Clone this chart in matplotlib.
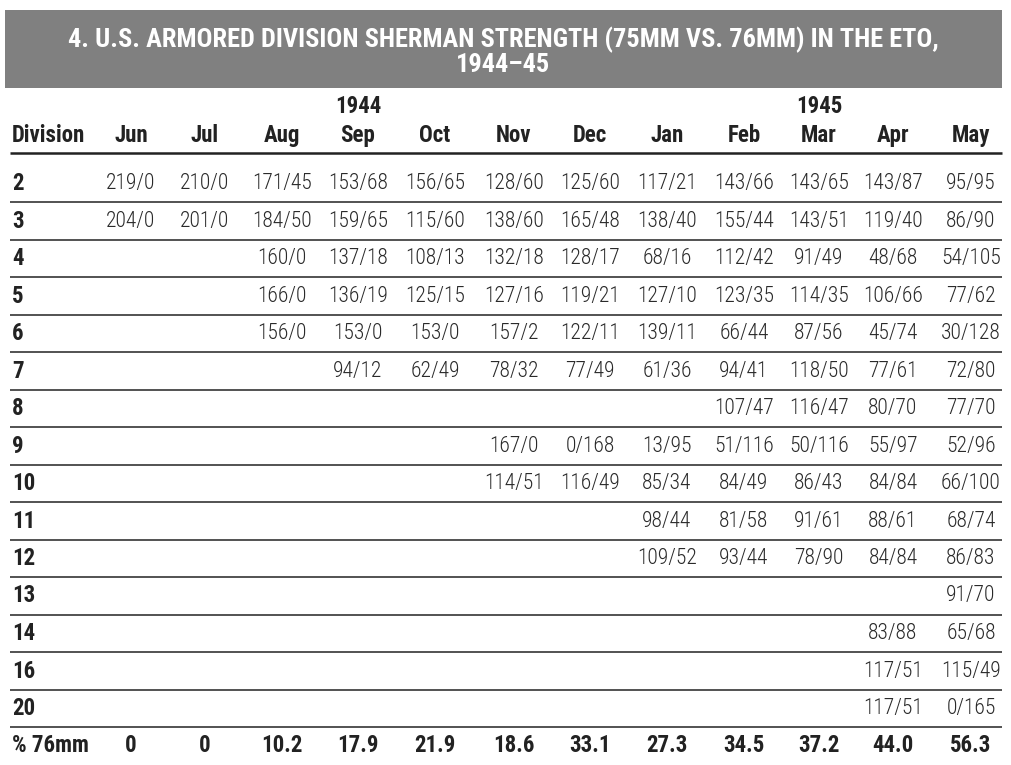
import matplotlib
matplotlib.use("Agg")
import matplotlib.pyplot as plt
from matplotlib import font_manager as fm
from matplotlib.patches import Rectangle

title = "4. U.S. ARMORED DIVISION SHERMAN STRENGTH (75MM VS. 76MM) IN THE ETO,\n1944\u201345"
months = ["Jun", "Jul", "Aug", "Sep", "Oct", "Nov", "Dec", "Jan", "Feb", "Mar", "Apr", "May"]
years = {"Sep": "1944", "Mar": "1945"}
divisions = ["2", "3", "4", "5", "6", "7", "8", "9", "10", "11", "12", "13", "14", "16", "20"]

d2  = ["219/0", "210/0", "171/45", "153/68", "156/65", "128/60", "125/60", "117/21", "143/66", "143/65", "143/87", "95/95"]
d3  = ["204/0", "201/0", "184/50", "159/65", "115/60", "138/60", "165/48", "138/40", "155/44", "143/51", "119/40", "86/90"]
d4  = ["", "", "160/0", "137/18", "108/13", "132/18", "128/17", "68/16", "112/42", "91/49", "48/68", "54/105"]
d5  = ["", "", "166/0", "136/19", "125/15", "127/16", "119/21", "127/10", "123/35", "114/35", "106/66", "77/62"]
d6  = ["", "", "156/0", "153/0", "153/0", "157/2", "122/11", "139/11", "66/44", "87/56", "45/74", "30/128"]
d7  = ["", "", "", "94/12", "62/49", "78/32", "77/49", "61/36", "94/41", "118/50", "77/61", "72/80"]
d8  = ["", "", "", "", "", "", "", "", "107/47", "116/47", "80/70", "77/70"]
d9  = ["", "", "", "", "", "167/0", "0/168", "13/95", "51/116", "50/116", "55/97", "52/96"]
d10 = ["", "", "", "", "", "114/51", "116/49", "85/34", "84/49", "86/43", "84/84", "66/100"]
d11 = ["", "", "", "", "", "", "", "98/44", "81/58", "91/61", "88/61", "68/74"]
d12 = ["", "", "", "", "", "", "", "109/52", "93/44", "78/90", "84/84", "86/83"]
d13 = ["", "", "", "", "", "", "", "", "", "", "", "91/70"]
d14 = ["", "", "", "", "", "", "", "", "", "", "83/88", "65/68"]
d16 = ["", "", "", "", "", "", "", "", "", "", "117/51", "115/49"]
d20 = ["", "", "", "", "", "", "", "", "", "", "117/51", "0/165"]
rows = [d2, d3, d4, d5, d6, d7, d8, d9, d10, d11, d12, d13, d14, d16, d20]
pct_label = "% 76mm"
pct76 = ["0", "0", "10.2", "17.9", "21.9", "18.6", "33.1", "27.3", "34.5", "37.2", "44.0", "56.3"]

# pick a condensed face if one is installed
FAM, STRETCH, CONDENSED = "Liberation Sans", "normal", False
for fam, st in [("Liberation Sans Narrow", "normal"), ("Roboto Condensed", "normal"),
                ("Open Sans Condensed", "normal"), ("DejaVu Sans", "condensed"),
                ("Noto Sans", "condensed"), ("Roboto", "condensed"), ("Open Sans", "condensed")]:
    try:
        p = fm.findfont(fm.FontProperties(family=fam, stretch=st), fallback_to_default=False)
    except Exception:
        continue
    low = p.lower()
    if "narrow" in low or "condensed" in low or "cond" in low:
        FAM, STRETCH, CONDENSED = fam, st, True
        break
plt.rcParams['font.family'] = [FAM, 'DejaVu Sans']
plt.rcParams['font.stretch'] = STRETCH

W, H = 1012, 765
fig = plt.figure(figsize=(W / 100, H / 100), dpi=100)
ax = fig.add_axes([0, 0, 1, 1])
ax.set_xlim(0, W)
ax.set_ylim(H, 0)
ax.axis("off")

# layout
col_x = [131, 205, 282, 358, 435, 514, 590, 667, 744, 819, 893, 971]
left_x = 12
line_x0, line_x1 = 10, 1002
row0_y = 183.5
row_h = 37.5
txt = "#222222"
fs = 15.5 if CONDENSED else 14.5
hfs = 16.5 if CONDENSED else 14.5
tfs = 19 if CONDENSED else 16

# title banner
ax.add_patch(Rectangle((5, 10), 997, 78, facecolor="#808080", edgecolor="none"))
for line, ty in zip(title.split("\n"), [39.5, 65]):
    ax.text(503, ty, line, ha="center", va="center", color="white", fontsize=tfs,
            fontweight="bold")

# header
ax.text(left_x, 135, "Division", ha="left", va="center", fontsize=hfs, fontweight="bold", color=txt)
for m, x in zip(months, col_x):
    ax.text(x, 135, m, ha="center", va="center", fontsize=hfs, fontweight="bold", color=txt)
    if m in years:
        ax.text(x, 106, years[m], ha="center", va="center", fontsize=hfs, fontweight="bold", color=txt)
ax.plot([line_x0, line_x1], [153, 153], color="#222222", lw=1.8, solid_capstyle="butt")

# body
for i, (dv, vals) in enumerate(zip(divisions, rows)):
    y = row0_y + i * row_h
    ax.text(left_x, y, dv, ha="left", va="center", fontsize=hfs, fontweight="bold", color=txt)
    for v, x in zip(vals, col_x):
        if v:
            ax.text(x, y, v, ha="center", va="center", fontsize=fs, color="#2a2a2a",
                    fontweight="light")
    ly = y + row_h / 2
    ax.plot([line_x0, line_x1], [ly, ly], color="#444444", lw=1.3, solid_capstyle="butt")

y = row0_y + len(divisions) * row_h - 1
ax.text(left_x, y, pct_label, ha="left", va="center", fontsize=hfs, fontweight="bold", color=txt)
for v, x in zip(pct76, col_x):
    ax.text(x, y, v, ha="center", va="center", fontsize=hfs, fontweight="bold", color=txt)

fig.savefig("out.png", dpi=100)
